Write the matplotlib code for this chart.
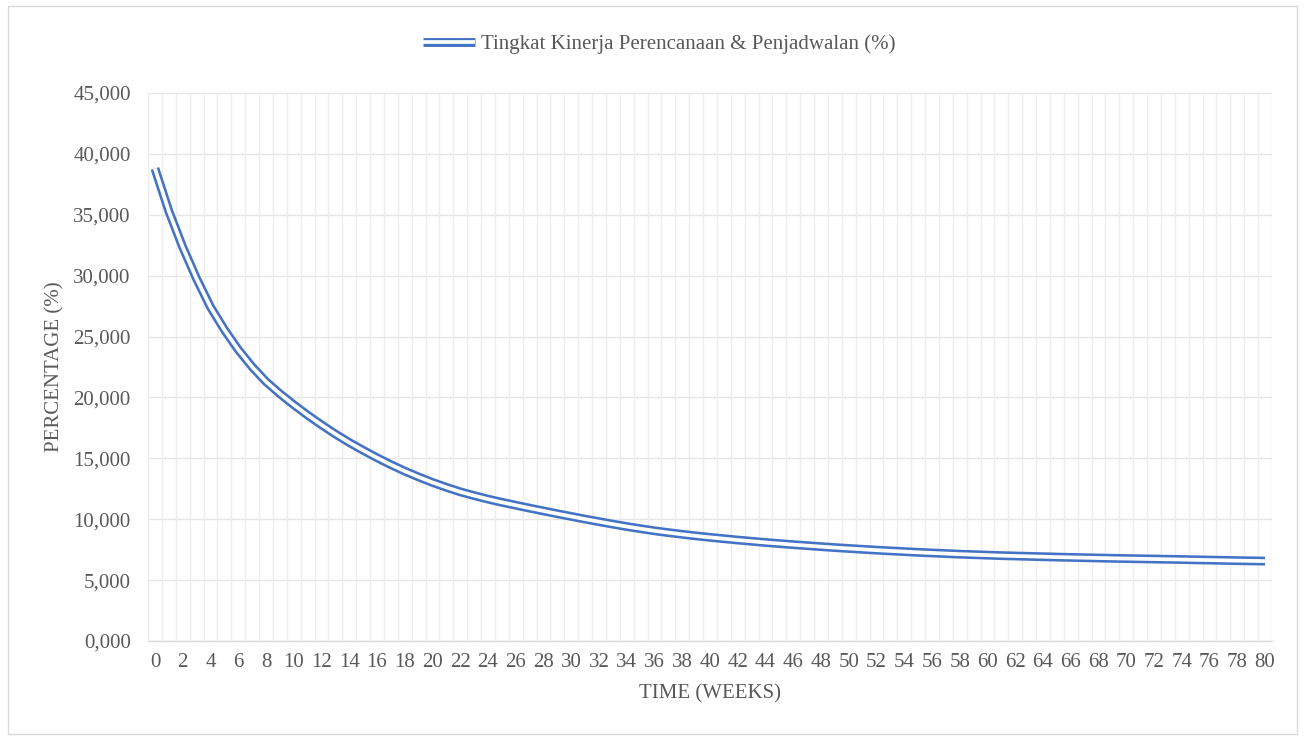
import matplotlib
matplotlib.use("Agg")
import matplotlib.pyplot as plt
import matplotlib.patheffects as pe
from matplotlib.patches import Rectangle
from matplotlib.ticker import FuncFormatter, MultipleLocator

weeks = list(range(0, 81))
performance = [
    38800, 35300, 32350, 29750, 27430, 25570, 23930, 22520, 21300, 20310,
    19400, 18550, 17750, 17000, 16300, 15660, 15050, 14480, 13950, 13470,
    13020, 12620, 12250, 11940, 11650, 11390, 11150, 10910, 10680, 10450,
    10230, 10010, 9800, 9595, 9400, 9220, 9050, 8900, 8760, 8630,
    8510, 8400, 8290, 8190, 8090, 8000, 7910, 7830, 7750, 7670,
    7600, 7530, 7460, 7400, 7340, 7280, 7230, 7180, 7130, 7090,
    7050, 7010, 6980, 6950, 6920, 6890, 6865, 6840, 6815, 6790,
    6770, 6750, 6730, 6710, 6690, 6665, 6645, 6620, 6600, 6580,
    6560,
]
series_label = "Tingkat Kinerja Perencanaan & Penjadwalan (%)"
x_title = "TIME (WEEKS)"
y_title = "PERCENTAGE (%)"

plt.rcParams['font.family'] = ['Liberation Serif', 'DejaVu Serif']
txt_color = '#595959'
line_color = '#4472C4'
fs = 15

fig = plt.figure(figsize=(13.05, 7.4), dpi=100)
fig.patches.append(Rectangle((0.006, 0.008), 0.988, 0.984, transform=fig.transFigure,
                             fill=False, edgecolor='#d9d9d9', linewidth=1.0))

ax = fig.add_axes([148/1305, 1-641/740, (1272-148)/1305, (641-93)/740])
ax.set_xlim(-0.5, 80.5)
ax.set_ylim(0, 45000)

# grid lines
for g in range(0, 45001, 5000):
    ax.axhline(g, color='#e6e6e6', lw=1.0, zorder=0)
for i in range(0, 82):
    ax.axvline(i - 0.5, color='#ededed', lw=1.0, zorder=0)

ax.plot(weeks, performance, color='white', lw=2.7, solid_capstyle='butt', zorder=3,
        label=series_label,
        path_effects=[pe.Stroke(linewidth=6.4, foreground=line_color, capstyle='butt'), pe.Normal()])

for s in ['top', 'right', 'left']:
    ax.spines[s].set_visible(False)
ax.spines['bottom'].set_color('#d9d9d9')
ax.spines['bottom'].set_linewidth(1.0)

ax.xaxis.set_major_locator(MultipleLocator(2))
ax.yaxis.set_major_locator(MultipleLocator(5000))
ax.yaxis.set_major_formatter(FuncFormatter(lambda v, p: f"{int(v)//1000},000"))
ax.tick_params(axis='both', length=0, colors=txt_color, labelsize=fs)
ax.tick_params(axis='x', pad=8.5)
ax.tick_params(axis='y', pad=12.5)

ax.set_xlabel(x_title, fontsize=fs, color=txt_color, labelpad=9)
ax.set_ylabel(y_title, fontsize=fs, color=txt_color, labelpad=6.5)

leg = fig.legend(loc='center', bbox_to_anchor=(659/1305, 1-44/740), frameon=False,
                 fontsize=fs, handlelength=2.5, handletextpad=0.29, labelcolor=txt_color)

fig.savefig("out.png", dpi=100)
